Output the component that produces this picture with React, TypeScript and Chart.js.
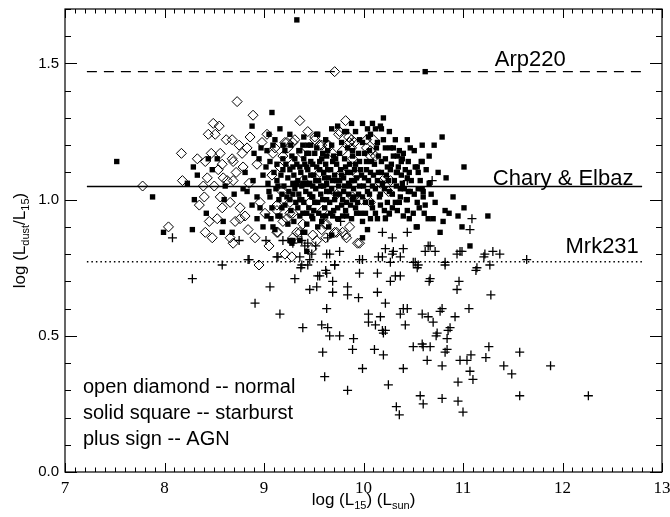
import React, { useEffect, useRef } from 'react';
import { Chart, registerables } from 'chart.js';

Chart.register(...registerables);

// ---------------- data ----------------
const X_MIN = 7;
const X_MAX = 13;
const Y_MIN = 0;
const Y_MAX = 1.7;
const X_TICKS = [7, 8, 9, 10, 11, 12, 13];
const Y_TICKS = [0, 0.5, 1.0, 1.5];
const Y_TICK_LABELS = ['0.0', '0.5', '1.0', '1.5'];

// open diamond -- normal galaxies  [log L15, log Ldust/L15]
const normalPts: [number, number][] = [
  [9.71, 1.47], [8.73, 1.36], [8.89, 1.31], [8.49, 1.28], [8.55, 1.27], [8.44, 1.24], [8.51, 1.24],
  [8.86, 1.23], [8.68, 1.22], [8.75, 1.20], [9.82, 1.29], [9.75, 1.24], [9.85, 1.23], [9.91, 1.21],
  [8.17, 1.17], [8.33, 1.15], [8.47, 1.17], [8.56, 1.17], [8.68, 1.15], [8.78, 1.17], [8.41, 1.14],
  [8.54, 1.11], [8.69, 1.14], [8.79, 1.12], [8.93, 1.13], [9.09, 1.17], [9.16, 1.12], [9.24, 1.19],
  [9.29, 1.21], [9.23, 1.21], [9.38, 1.17], [9.51, 1.22], [9.56, 1.20], [9.64, 1.20], [8.18, 1.07],
  [8.39, 1.05], [8.43, 1.08], [7.78, 1.05], [8.59, 1.08], [8.63, 1.07], [8.69, 1.07], [8.56, 1.01],
  [8.40, 1.01], [8.58, 0.97], [8.76, 0.97], [8.53, 0.93], [8.81, 0.94], [8.76, 0.93], [8.96, 0.99],
  [9.01, 0.95], [9.13, 0.96], [9.23, 0.93], [9.29, 0.95], [8.04, 0.90], [8.41, 0.88], [8.48, 0.86],
  [8.66, 0.86], [8.69, 0.84], [9.14, 0.88], [9.29, 0.86], [9.36, 0.88], [9.53, 0.85], [9.63, 0.91],
  [9.71, 0.88], [9.82, 0.87], [9.86, 0.90], [9.21, 0.80], [9.28, 0.79], [8.95, 0.76], [9.94, 0.84],
  [9.88, 1.22], [10.03, 1.22], [10.07, 1.18], [10.12, 1.16], [9.69, 1.17], [9.79, 1.18], [10.19, 1.07],
  [10.27, 1.07], [9.89, 1.01], [9.98, 1.00], [9.79, 0.88], [9.58, 0.89], [9.62, 0.86], [9.49, 0.87],
  [9.31, 1.22], [9.21, 1.21], [9.11, 1.19], [9.19, 1.16], [9.58, 1.20], [9.76, 1.25], [9.86, 1.21],
  [10.03, 1.19], [10.07, 1.16], [9.89, 1.15], [9.28, 1.13], [9.16, 1.12], [9.08, 1.09], [9.94, 1.09],
  [10.17, 1.06], [10.25, 1.03], [9.26, 0.99], [9.13, 0.98], [9.26, 0.95], [9.19, 0.92], [9.13, 0.88],
  [9.33, 0.88], [9.39, 0.91], [9.61, 0.91], [9.73, 0.88], [9.83, 0.86], [9.96, 0.84], [10.07, 0.99],
  [10.10, 1.22], [9.88, 1.19], [9.39, 1.07], [9.56, 1.10], [9.78, 1.10], [9.73, 1.02], [9.59, 0.96],
  [9.46, 0.99], [9.18, 1.03], [9.51, 1.23], [9.65, 1.20], [8.62, 1.22], [8.58, 1.13], [8.72, 1.10],
  [8.85, 1.06], [8.66, 0.99], [8.71, 0.92], [8.84, 0.89], [8.91, 0.86], [8.50, 1.05], [8.35, 0.98],
  [8.45, 0.92], [9.03, 1.24], [9.44, 1.25], [9.36, 1.29], [9.05, 0.83], [9.48, 0.82], [8.83, 1.19],
  [8.98, 1.21],
];

// solid square -- starburst galaxies
const starburstPts: [number, number][] = [
  [9.33, 1.66], [10.62, 1.47], [7.52, 1.14], [7.88, 1.01], [7.99, 0.88], [8.28, 0.89], [8.30, 1.00],
  [8.23, 1.06], [8.29, 1.12], [8.33, 1.09], [8.42, 0.95], [8.59, 0.92], [8.58, 0.88], [8.68, 0.88],
  [8.88, 1.27], [9.08, 1.32], [8.97, 1.19], [8.44, 1.15], [8.53, 1.15], [8.48, 1.11], [8.61, 1.05],
  [8.60, 1.00], [8.70, 1.02], [8.90, 1.17], [8.95, 1.15], [8.81, 1.10], [8.89, 1.07], [8.79, 1.04],
  [8.83, 1.03], [8.93, 1.01], [8.88, 0.98], [8.96, 0.97], [8.93, 0.93], [8.99, 0.90], [9.09, 0.90],
  [9.03, 0.94], [9.16, 0.94], [9.06, 1.01], [9.18, 1.02], [9.04, 1.06], [9.13, 1.07], [8.99, 1.09],
  [9.19, 1.15], [9.09, 1.20], [9.19, 1.20], [9.36, 1.18], [9.53, 1.24], [9.43, 1.17], [9.29, 1.12],
  [9.43, 1.12], [9.56, 1.14], [9.69, 1.14], [9.78, 1.21], [9.83, 1.25], [9.89, 1.18], [9.29, 1.06],
  [9.39, 1.06], [9.49, 1.05], [9.63, 1.06], [9.76, 1.07], [9.86, 1.05], [9.26, 1.00], [9.36, 1.00],
  [9.49, 1.01], [9.63, 1.00], [9.79, 1.00], [9.89, 1.00], [9.43, 0.95], [9.49, 0.93], [9.59, 0.94],
  [9.69, 0.94], [9.83, 0.94], [9.93, 0.95], [9.54, 0.90], [9.41, 0.88], [9.36, 0.85], [9.26, 0.85],
  [9.43, 0.81], [9.99, 1.28], [10.09, 1.28], [10.20, 1.30], [10.04, 1.26], [10.12, 1.26], [10.18, 1.26],
  [10.05, 1.23], [10.14, 1.21], [10.22, 1.19], [10.30, 1.19], [10.59, 1.20], [10.36, 1.18], [10.34, 1.16],
  [10.39, 1.15], [10.45, 1.14], [10.54, 1.12], [10.59, 1.14], [10.34, 1.10], [10.24, 1.12], [10.44, 1.08],
  [10.39, 1.06], [10.47, 1.03], [10.55, 1.04], [10.60, 1.03], [10.54, 0.99], [10.44, 1.00], [10.37, 1.01],
  [10.32, 0.99], [10.24, 0.99], [10.17, 0.98], [10.44, 0.96], [10.34, 0.96], [10.22, 0.93], [10.14, 0.93],
  [10.07, 0.93], [9.99, 0.92], [10.54, 0.90], [10.40, 0.94], [10.04, 0.89], [9.99, 0.86], [9.65, 0.90],
  [9.68, 0.87], [9.39, 0.88], [9.29, 0.85], [9.11, 0.89], [9.14, 0.94], [10.17, 1.27], [9.81, 1.25],
  [9.54, 1.24], [10.79, 1.23], [10.07, 1.24], [10.27, 1.19], [10.40, 1.17], [10.58, 1.14], [11.01, 1.12],
  [10.52, 1.12], [10.55, 1.10], [10.83, 1.08], [10.33, 1.10], [10.37, 1.04], [10.45, 1.03], [10.59, 1.04],
  [10.60, 1.01], [10.43, 1.00], [10.56, 0.97], [11.01, 0.97], [10.82, 0.96], [10.86, 0.95], [10.95, 0.94],
  [10.65, 0.93], [10.70, 0.93], [10.80, 0.92], [11.25, 0.94], [10.99, 0.90], [10.77, 0.88], [10.53, 0.90],
  [11.07, 0.83], [9.28, 0.84],
  [9.02, 1.12], [9.05, 1.03], [9.08, 0.97], [9.10, 1.10], [9.12, 1.04], [9.15, 1.00], [9.17, 1.09],
  [9.20, 1.05], [9.21, 0.98], [9.22, 1.13], [9.24, 1.08], [9.25, 1.03], [9.27, 0.96], [9.28, 1.16],
  [9.30, 1.09], [9.31, 1.04], [9.32, 0.99], [9.33, 1.13], [9.34, 1.07], [9.35, 1.02], [9.36, 0.94],
  [9.37, 1.10], [9.38, 1.05], [9.40, 1.15], [9.40, 0.99], [9.41, 1.08], [9.42, 1.03], [9.44, 1.20],
  [9.44, 1.11], [9.45, 0.97], [9.46, 1.06], [9.47, 1.14], [9.48, 1.01], [9.50, 1.09], [9.50, 0.96],
  [9.51, 1.17], [9.52, 1.04], [9.53, 1.12], [9.54, 0.99], [9.55, 1.07], [9.57, 1.02], [9.58, 1.15],
  [9.58, 0.92], [9.60, 1.10], [9.60, 1.05], [9.61, 0.97], [9.62, 1.13], [9.63, 1.03], [9.64, 1.18],
  [9.65, 1.08], [9.66, 0.99], [9.67, 1.11], [9.68, 1.04], [9.70, 1.16], [9.70, 0.96], [9.71, 1.09],
  [9.72, 1.02], [9.73, 1.13], [9.74, 0.93], [9.75, 1.05], [9.77, 1.11], [9.78, 0.98], [9.80, 1.08],
  [9.80, 1.03], [9.81, 1.15], [9.82, 0.96], [9.84, 1.10], [9.85, 1.02], [9.86, 1.13], [9.87, 0.98],
  [9.88, 1.07], [9.90, 1.04], [9.91, 1.11], [9.92, 0.97], [9.93, 1.08], [9.95, 1.02], [9.96, 1.14],
  [9.97, 0.95], [9.98, 1.09], [10.00, 1.05], [10.01, 1.17], [10.02, 0.99], [10.03, 1.11], [10.05, 1.07],
  [10.06, 1.02], [10.08, 1.14], [10.09, 0.97], [10.10, 1.09], [10.12, 1.04], [10.13, 1.19], [10.15, 1.10],
  [10.16, 1.01], [10.18, 1.14], [10.19, 1.06], [10.21, 0.96], [10.23, 1.09], [10.26, 1.03], [10.28, 1.13],
  [10.29, 0.97], [10.31, 1.07], [10.35, 1.12], [10.38, 1.09], [10.42, 1.11], [10.48, 1.07], [10.50, 0.95],
  [10.62, 0.98], [10.66, 1.06], [10.72, 0.99], [10.90, 1.01], [10.75, 1.10], [9.62, 1.22], [9.47, 1.20],
  [9.40, 1.23], [9.68, 1.26], [9.74, 1.27], [9.92, 1.25], [9.88, 1.28], [10.32, 1.22], [9.26, 1.24],
  [9.16, 1.26],
  [9.03, 1.18], [9.06, 1.14], [9.07, 0.93], [9.11, 1.22], [9.13, 1.13], [9.14, 1.05], [9.18, 0.97],
  [9.19, 1.11], [9.21, 1.18], [9.23, 1.01], [9.24, 0.91], [9.26, 1.11], [9.27, 1.20], [9.29, 1.02],
  [9.30, 0.92], [9.31, 1.15], [9.33, 1.06], [9.34, 0.97], [9.35, 1.18], [9.36, 1.12], [9.38, 1.00],
  [9.39, 1.20], [9.39, 0.95], [9.41, 1.13], [9.42, 1.06], [9.43, 0.91], [9.45, 1.17], [9.46, 1.02],
  [9.47, 1.09], [9.48, 0.94], [9.49, 1.13], [9.51, 0.99], [9.52, 1.07], [9.53, 1.19], [9.55, 0.95],
  [9.56, 1.11], [9.57, 1.05], [9.59, 1.17], [9.59, 1.00], [9.61, 1.08], [9.62, 0.94], [9.63, 1.16],
  [9.64, 1.11], [9.66, 1.03], [9.67, 0.95], [9.68, 1.20], [9.69, 1.07], [9.71, 1.00], [9.72, 1.15],
  [9.73, 1.07], [9.74, 0.97], [9.76, 1.02], [9.76, 1.17], [9.78, 1.09], [9.79, 0.94], [9.81, 1.05],
  [9.82, 1.12], [9.83, 0.99], [9.84, 1.19], [9.85, 1.06], [9.87, 1.10], [9.88, 0.93], [9.89, 1.16],
  [9.90, 1.01], [9.91, 1.07], [9.92, 1.13], [9.94, 0.99], [9.95, 1.17], [9.96, 1.05], [9.97, 1.11],
  [9.99, 1.01], [9.99, 1.21], [10.01, 1.08], [10.02, 0.95], [10.03, 1.14], [10.04, 1.03], [10.06, 1.18],
  [10.07, 1.10], [10.08, 0.99], [10.09, 1.05], [10.11, 1.13], [10.12, 0.95], [10.14, 1.07], [10.15, 1.16],
  [10.17, 1.02], [10.18, 1.10], [10.20, 1.22], [10.21, 1.04], [10.22, 1.15], [10.25, 1.07], [10.26, 0.95],
  [10.27, 1.11], [10.29, 1.02], [10.30, 1.16], [10.33, 1.05], [10.36, 0.99], [10.38, 1.14], [10.41, 1.04],
  [10.46, 1.10], [10.51, 1.02], [10.57, 1.07], [10.63, 1.11], [10.68, 1.02], [10.46, 0.93], [10.61, 0.95],
  [9.05, 1.24], [9.96, 1.22], [10.26, 1.25], [10.44, 1.22], [10.51, 1.18], [10.66, 1.16], [10.71, 1.20],
  [10.47, 1.19],
];

// plus sign -- AGN
const agnPts: [number, number][] = [
  [8.58, 0.76], [8.84, 0.78], [9.06, 0.68], [8.91, 0.62], [9.16, 0.58], [9.31, 0.71], [9.39, 0.53],
  [9.13, 0.79], [9.36, 0.79], [9.38, 0.76], [9.46, 0.78], [9.44, 0.76], [9.63, 0.80], [9.76, 0.81],
  [9.71, 0.76], [9.54, 0.72], [9.62, 0.74], [9.46, 0.67], [9.53, 0.68], [9.69, 0.70], [9.69, 0.66],
  [9.84, 0.68], [9.84, 0.65], [9.95, 0.64], [9.63, 0.60], [9.58, 0.54], [9.64, 0.53], [9.66, 0.50],
  [9.76, 0.50], [9.90, 0.49], [9.89, 0.45], [9.59, 0.44], [9.61, 0.35], [9.84, 0.30], [9.99, 0.38],
  [9.96, 0.78], [9.99, 0.78], [10.14, 0.73], [9.96, 0.73], [10.14, 0.66], [10.22, 0.62], [10.05, 0.58],
  [10.17, 0.57], [10.05, 0.55], [10.12, 0.54], [10.19, 0.52], [10.22, 0.52], [10.20, 0.51], [10.11, 0.45],
  [10.20, 0.43], [10.25, 0.32], [10.40, 0.38], [10.40, 0.60], [10.44, 0.60], [10.42, 0.54], [10.37, 0.58],
  [10.33, 0.24], [10.36, 0.21], [10.22, 0.82], [10.30, 0.81], [10.40, 0.82], [10.19, 0.79], [10.27, 0.77],
  [10.37, 0.79], [10.37, 0.72], [10.27, 0.70], [10.32, 0.72], [10.50, 0.77], [10.55, 0.76], [10.62, 0.81],
  [10.67, 0.83], [10.72, 0.81], [10.82, 0.76], [10.67, 0.71], [10.66, 0.70], [10.59, 0.58], [10.65, 0.57],
  [10.70, 0.55], [10.79, 0.60], [10.77, 0.59], [10.74, 0.51], [10.73, 0.50], [10.84, 0.49], [10.85, 0.52],
  [10.92, 0.57], [10.87, 0.53], [10.50, 0.46], [10.59, 0.47], [10.67, 0.46], [10.60, 0.46], [10.82, 0.44],
  [10.84, 0.45], [10.64, 0.41], [10.79, 0.39], [10.97, 0.41], [11.04, 0.41], [11.08, 0.43], [11.23, 0.42],
  [11.26, 0.46], [11.07, 0.37], [11.10, 0.34], [10.95, 0.33], [10.57, 0.28], [10.60, 0.25], [10.79, 0.27],
  [10.95, 0.26], [11.00, 0.22], [11.41, 0.39], [11.49, 0.36], [11.57, 0.44], [11.57, 0.28], [11.88, 0.39],
  [12.26, 0.28], [11.06, 0.60], [11.28, 0.65], [10.94, 0.67], [10.96, 0.70], [11.13, 0.74], [11.27, 0.76],
  [11.21, 0.79], [11.30, 0.81], [11.37, 0.80], [11.64, 0.78], [10.94, 0.80], [10.99, 0.81], [10.44, 1.07],
  [10.69, 1.07], [11.09, 0.93], [11.07, 0.89], [10.44, 0.88], [10.19, 0.88], [10.29, 0.86], [10.24, 0.94],
  [10.65, 0.83], [10.29, 0.80], [10.15, 0.79], [10.97, 0.81], [11.22, 0.80], [11.14, 0.75], [10.82, 0.77],
  [9.56, 0.72], [9.66, 0.80], [9.48, 0.80], [9.41, 0.83], [9.38, 0.85], [10.52, 0.77], [10.54, 0.75],
  [8.08, 0.86], [8.85, 0.78], [8.75, 0.85], [9.02, 0.85], [9.19, 0.85], [9.29, 0.84], [9.44, 0.84],
  [9.52, 0.83], [9.14, 0.79], [9.37, 0.75], [9.64, 0.86], [9.77, 0.92], [9.63, 0.73], [9.71, 0.76],
  [8.28, 0.71],
];

// reference lines
const LINE_X_RANGE = [7.22, 12.8];
const ARP220_Y = 1.47;
const CHARY_ELBAZ_Y = 1.048;
const MRK231_Y = 0.772;
const LINE_LABELS = ['Arp220', 'Chary & Elbaz', 'Mrk231'];
const LABEL_X = [11.32, 11.3, 12.03];
const LEGEND_TEXT = ['open diamond -- normal', 'solid square -- starburst', 'plus sign -- AGN'];

// ---------------- helpers ----------------
const SANS = '"Liberation Sans", Arial, Helvetica, sans-serif';
const SERIF = '"Liberation Serif", "Times New Roman", serif';

const toXY = (arr: [number, number][]) => arr.map(([x, y]) => ({ x, y }));
const hLine = (y: number) => [
  { x: LINE_X_RANGE[0], y },
  { x: LINE_X_RANGE[1], y },
];

type Part = [string, boolean];

function drawRich(ctx: CanvasRenderingContext2D, parts: Part[], cx: number, cy: number, size: number, subSize: number) {
  let total = 0;
  const widths = parts.map(([t, sub]) => {
    ctx.font = `${sub ? subSize : size}px ${SANS}`;
    const w = ctx.measureText(t).width;
    total += w;
    return w;
  });
  let x = cx - total / 2;
  ctx.textAlign = 'left';
  ctx.textBaseline = 'alphabetic';
  parts.forEach(([t, sub], i) => {
    ctx.font = `${sub ? subSize : size}px ${SANS}`;
    ctx.fillText(t, x, cy + (sub ? 4 : 0));
    x += widths[i];
  });
}

const framePlugin = {
  id: 'frameAndText',
  afterDraw(chart: any) {
    const { ctx, chartArea: a, scales } = chart;
    const xs = scales.x;
    const ys = scales.y;
    ctx.save();
    ctx.strokeStyle = '#000';
    ctx.fillStyle = '#000';
    ctx.lineWidth = 1.2;
    ctx.strokeRect(a.left, a.top, a.right - a.left, a.bottom - a.top);

    ctx.lineWidth = 1;
    ctx.beginPath();
    for (let i = 0; i <= 60; i++) {
      const v = X_MIN + i * 0.1;
      const px = Math.round(xs.getPixelForValue(v)) + 0.5;
      const len = i % 10 === 0 ? 9 : 4.5;
      ctx.moveTo(px, a.bottom);
      ctx.lineTo(px, a.bottom - len);
      ctx.moveTo(px, a.top);
      ctx.lineTo(px, a.top + len);
    }
    for (let i = 0; i <= 17; i++) {
      const v = i * 0.1;
      const py = Math.round(ys.getPixelForValue(v)) + 0.5;
      const len = i % 5 === 0 ? 12 : 6;
      ctx.moveTo(a.left, py);
      ctx.lineTo(a.left + len, py);
      ctx.moveTo(a.right, py);
      ctx.lineTo(a.right - len, py);
    }
    ctx.stroke();

    // line labels
    ctx.font = `22px ${SANS}`;
    ctx.textAlign = 'left';
    ctx.textBaseline = 'alphabetic';
    ctx.fillText(LINE_LABELS[0], xs.getPixelForValue(LABEL_X[0]), ys.getPixelForValue(ARP220_Y) - 6);
    ctx.fillText(LINE_LABELS[1], xs.getPixelForValue(LABEL_X[1]), ys.getPixelForValue(CHARY_ELBAZ_Y) - 2);
    ctx.fillText(LINE_LABELS[2], xs.getPixelForValue(LABEL_X[2]), ys.getPixelForValue(MRK231_Y) - 9);

    // legend text
    ctx.font = `20px ${SANS}`;
    LEGEND_TEXT.forEach((t, i) => {
      ctx.fillText(t, a.left + 18, a.bottom - 79 + i * 26);
    });

    // axis titles
    const xc = (a.left + a.right) / 2;
    drawRich(ctx, [['log (L', false], ['15', true], [') (L', false], ['sun', true], [')', false]], xc, 505, 17, 11);

    ctx.save();
    ctx.translate(25, (a.top + a.bottom) / 2);
    ctx.rotate(-Math.PI / 2);
    drawRich(ctx, [['log (L', false], ['dust', true], ['/L', false], ['15', true], [')', false]], 0, 0, 17, 11);
    ctx.restore();

    ctx.restore();
  },
};

export default function App() {
  const ref = useRef<HTMLCanvasElement | null>(null);

  useEffect(() => {
    if (!ref.current) return;
    const chart = new Chart(ref.current, {
      type: 'scatter',
      data: {
        datasets: [
          {
            label: 'AGN',
            data: toXY(agnPts),
            pointStyle: 'cross',
            pointRadius: 4.5,
            borderColor: '#000',
            borderWidth: 1.3,
            backgroundColor: '#000',
          },
          {
            label: 'starburst',
            data: toXY(starburstPts),
            pointStyle: 'rect',
            pointRadius: 3.8,
            borderWidth: 0,
            borderColor: '#000',
            backgroundColor: '#000',
          },
          {
            label: 'normal',
            data: toXY(normalPts),
            pointStyle: 'rectRot',
            pointRadius: 5,
            borderWidth: 1,
            borderColor: '#000',
            backgroundColor: 'rgba(255,255,255,0)',
          },
          {
            type: 'line',
            label: 'Arp220',
            data: hLine(ARP220_Y),
            borderColor: '#000',
            borderWidth: 1.4,
            borderDash: [10, 7],
            pointRadius: 0,
          } as any,
          {
            type: 'line',
            label: 'Chary & Elbaz',
            data: hLine(CHARY_ELBAZ_Y),
            borderColor: '#000',
            borderWidth: 1.5,
            pointRadius: 0,
          } as any,
          {
            type: 'line',
            label: 'Mrk231',
            data: hLine(MRK231_Y),
            borderColor: '#000',
            borderWidth: 1.4,
            borderDash: [1.5, 3],
            pointRadius: 0,
          } as any,
        ],
      },
      options: {
        responsive: false,
        animation: false,
        events: [],
        layout: { padding: { top: 9, right: 8, left: 0, bottom: 0 } },
        plugins: { legend: { display: false }, tooltip: { enabled: false } },
        scales: {
          x: {
            type: 'linear',
            min: X_MIN,
            max: X_MAX,
            afterBuildTicks: (s: any) => {
              s.ticks = X_TICKS.map((v) => ({ value: v }));
            },
            afterFit: (s: any) => {
              s.height = 45;
              s.paddingLeft = 0;
              s.paddingRight = 0;
              s.paddingTop = 0;
              s.paddingBottom = 0;
            },
            grid: { display: false, drawTicks: false },
            border: { display: false },
            ticks: {
              color: '#000',
              font: { family: SERIF, size: 17 },
              padding: 6,
              maxRotation: 0,
              callback: (v: any) => String(v),
            },
          },
          y: {
            type: 'linear',
            min: Y_MIN,
            max: Y_MAX,
            afterBuildTicks: (s: any) => {
              s.ticks = Y_TICKS.map((v) => ({ value: v }));
            },
            afterFit: (s: any) => {
              s.width = 65;
              s.paddingLeft = 0;
              s.paddingRight = 0;
              s.paddingTop = 0;
              s.paddingBottom = 0;
            },
            grid: { display: false, drawTicks: false },
            border: { display: false },
            ticks: {
              color: '#000',
              font: { family: SANS, size: 15 },
              padding: 6,
              callback: (v: any) => Y_TICK_LABELS[Y_TICKS.indexOf(Number(v))] ?? '',
            },
          },
        },
      },
      plugins: [framePlugin],
    });
    return () => chart.destroy();
  }, []);

  return (
    <div style={{ position: 'fixed', left: 0, top: 0, width: 670, height: 517, background: '#fff' }}>
      <canvas ref={ref} width={670} height={517} style={{ display: 'block' }} />
    </div>
  );
}
